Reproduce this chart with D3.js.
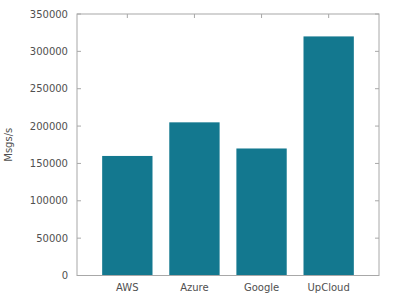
<!DOCTYPE html>
<html><head><meta charset="utf-8">
<script src="https://cdn.jsdelivr.net/npm/d3@7"></script>
<style>body{margin:0;background:#fff}svg{display:block}text{font-family:"DejaVu Sans",sans-serif}</style>
</head><body><svg id="c" width="400" height="300"></svg>
<script>
const categories = ["AWS", "Azure", "Google", "UpCloud"];
const values = [160000, 205000, 170000, 320000];
const yTicks = [0, 50000, 100000, 150000, 200000, 250000, 300000, 350000];

const svg = d3.select("#c");
const L = 77, R = 379, T = 14, B = 275.5;
const x = d3.scaleLinear().domain([-0.75, 3.75]).range([L, R]);
const y = d3.scaleLinear().domain([0, 350000]).range([B, T]);
const bw = 0.75;
const axisCol = "#a8a8a8", textCol = "#505050";

const g = svg.append("g");
yTicks.forEach(v => {
  g.append("line").attr("x1", L).attr("x2", L + 4).attr("y1", y(v)).attr("y2", y(v)).attr("stroke", axisCol);
  g.append("line").attr("x1", R).attr("x2", R - 4).attr("y1", y(v)).attr("y2", y(v)).attr("stroke", axisCol);
  g.append("text").attr("x", L - 9).attr("y", y(v)).attr("dy", "0.35em").attr("text-anchor", "end")
    .attr("font-size", 10).attr("fill", textCol).text(v);
});
categories.forEach((c, i) => {
  g.append("line").attr("x1", x(i)).attr("x2", x(i)).attr("y1", T).attr("y2", T + 4).attr("stroke", axisCol);
  g.append("line").attr("x1", x(i)).attr("x2", x(i)).attr("y1", B).attr("y2", B - 4).attr("stroke", axisCol);
  g.append("text").attr("x", x(i)).attr("y", B + 15).attr("text-anchor", "middle")
    .attr("font-size", 10).attr("fill", textCol).text(c);
});
svg.append("g").selectAll("rect").data(values).join("rect")
  .attr("x", (d, i) => x(i - bw / 2)).attr("width", (d, i) => x(i + bw / 2) - x(i - bw / 2))
  .attr("y", d => y(d)).attr("height", d => B - y(d))
  .attr("fill", "#13788f");
svg.append("rect").attr("x", L).attr("y", T).attr("width", R - L).attr("height", B - T)
  .attr("fill", "none").attr("stroke", axisCol).attr("stroke-width", 1);
svg.append("text").attr("transform", `translate(8,${(T + B) / 2}) rotate(-90)`).attr("text-anchor", "middle")
  .attr("dy", "0.35em").attr("font-size", 10).attr("fill", textCol).text("Msgs/s");
</script></body></html>
